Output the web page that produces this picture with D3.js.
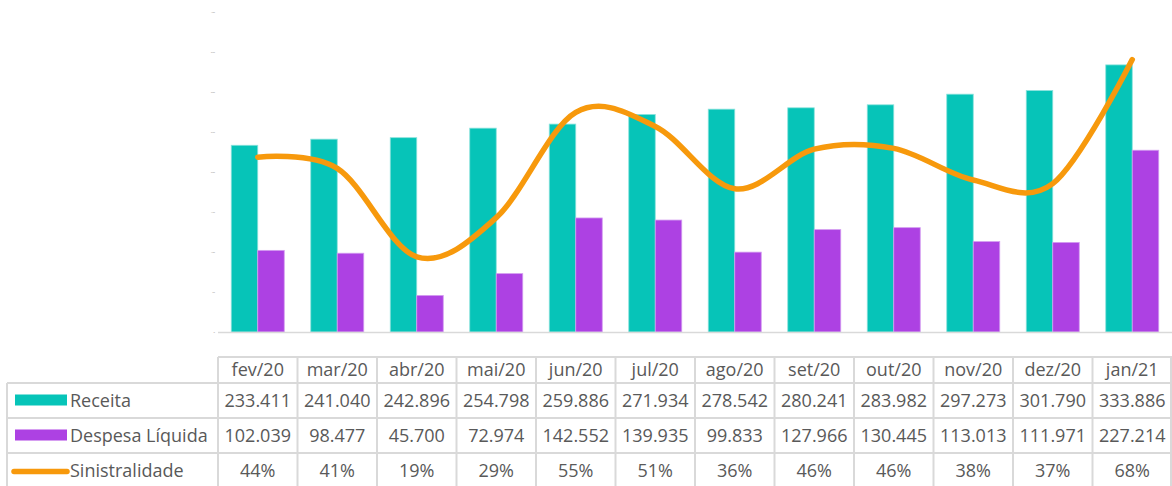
<!DOCTYPE html>
<html lang="pt">
<head>
  <meta charset="UTF-8">
  <title>Receita x Despesa Líquida x Sinistralidade</title>
  <script src="https://cdnjs.cloudflare.com/ajax/libs/d3/7.8.5/d3.min.js"></script>
  <style>
    html, body { margin: 0; padding: 0; background: #fff; }
    #chart { width: 1172px; height: 486px; }
    text { font-family: "Open Sans", "Noto Sans", sans-serif; fill: #595959; }
  </style>
</head>
<body>
  <div id="chart"></div>

  <script>
    // data
    const months = ["fev/20", "mar/20", "abr/20", "mai/20", "jun/20", "jul/20",
                    "ago/20", "set/20", "out/20", "nov/20", "dez/20", "jan/21"];
    const receita = [233.411, 241.040, 242.896, 254.798, 259.886, 271.934,
                     278.542, 280.241, 283.982, 297.273, 301.790, 333.886];
    const despesa = [102.039, 98.477, 45.700, 72.974, 142.552, 139.935,
                     99.833, 127.966, 130.445, 113.013, 111.971, 227.214];
    const sinistralidade = [0.437, 0.409, 0.188, 0.286, 0.549, 0.514,
                            0.358, 0.457, 0.459, 0.380, 0.371, 0.681];
    const yTicks = [0, 50, 100, 150, 200, 250, 300, 350, 400];

    const colors = { receita: "#06c4b8", despesa: "#ad41e3", sin: "#f7990c" };
    const gridColor = "#d9d9d9";

    const W = 1172, H = 486;
    const plotLeft = 218, plotRight = 1172, plotBottom = 332, plotTop = 12;

    const svg = d3.select("#chart").append("svg")
      .attr("width", W)
      .attr("height", H);

    // scales
    const x = d3.scaleBand()
      .domain(months)
      .range([plotLeft, plotRight])
      .padding(0);

    const xs = d3.scaleBand()
      .domain(["receita", "despesa"])
      .range([0, x.bandwidth()])
      .paddingInner(0)
      .paddingOuter(0.5);

    const y = d3.scaleLinear().domain([0, 400]).range([plotBottom, plotTop]);
    const y2 = d3.scaleLinear().domain([0, 0.8]).range([plotBottom, plotTop]);

    // left axis: tiny unreadable labels like the original
    const yAxis = svg.append("g")
      .attr("transform", `translate(${plotLeft - 3},0)`)
      .call(d3.axisLeft(y).tickValues(yTicks).tickSize(0).tickFormat(d => d));
    yAxis.select(".domain").remove();
    yAxis.selectAll("text")
      .style("font-size", "2.5px")
      .style("fill", "#999")
      .attr("x", 0);

    // bars
    const groups = svg.append("g").selectAll("g")
      .data(months)
      .join("g")
      .attr("transform", d => `translate(${x(d)},0)`);

    groups.append("rect")
      .attr("x", xs("receita"))
      .attr("y", (d, i) => y(receita[i]))
      .attr("width", xs.bandwidth())
      .attr("height", (d, i) => y(0) - y(receita[i]))
      .attr("fill", colors.receita)
      .attr("stroke", "#8ae2dc")
      .attr("stroke-width", 0.8);

    groups.append("rect")
      .attr("x", xs("despesa"))
      .attr("y", (d, i) => y(despesa[i]))
      .attr("width", xs.bandwidth())
      .attr("height", (d, i) => y(0) - y(despesa[i]))
      .attr("fill", colors.despesa)
      .attr("stroke", "#d39cf0")
      .attr("stroke-width", 0.8);

    // baseline
    svg.append("line")
      .attr("x1", plotLeft).attr("x2", plotRight)
      .attr("y1", y(0) + 0.5).attr("y2", y(0) + 0.5)
      .attr("stroke", gridColor)
      .attr("stroke-width", 1.5);

    // smoothed line
    const line = d3.line()
      .x((d, i) => x(months[i]) + x.bandwidth() / 2)
      .y(d => y2(d))
      .curve(d3.curveCardinal.tension(0));

    svg.append("path")
      .datum(sinistralidade)
      .attr("d", line)
      .attr("fill", "none")
      .attr("stroke", colors.sin)
      .attr("stroke-width", 5.5)
      .attr("stroke-linecap", "round")
      .attr("stroke-linejoin", "round");

    // data table
    const tableLeft = 7;
    const rowEdges = [357, 383, 418, 453, 488];
    const table = svg.append("g");

    const rows = [
      { label: "Receita", key: "receita", values: receita.map(v => v.toFixed(3)) },
      { label: "Despesa Líquida", key: "despesa", values: despesa.map(v => v.toFixed(3)) },
      { label: "Sinistralidade", key: "sin", values: sinistralidade.map(v => Math.round(v * 100) + "%") }
    ];

    // horizontal borders
    rowEdges.forEach((ry, i) => {
      table.append("line")
        .attr("x1", i === 0 ? plotLeft : tableLeft)
        .attr("x2", plotRight)
        .attr("y1", ry).attr("y2", ry)
        .attr("stroke", gridColor)
        .attr("stroke-width", 2);
    });

    // vertical borders
    table.append("line")
      .attr("x1", tableLeft).attr("x2", tableLeft)
      .attr("y1", rowEdges[1]).attr("y2", H)
      .attr("stroke", gridColor).attr("stroke-width", 2);
    months.concat([null]).forEach((m, i) => {
      const vx = m ? x(m) : plotRight - 1;
      table.append("line")
        .attr("x1", vx).attr("x2", vx)
        .attr("y1", rowEdges[0]).attr("y2", H)
        .attr("stroke", gridColor).attr("stroke-width", 2);
    });

    // header
    table.selectAll(".hdr")
      .data(months)
      .join("text")
      .attr("class", "hdr")
      .attr("x", d => x(d) + x.bandwidth() / 2)
      .attr("y", (rowEdges[0] + rowEdges[1]) / 2)
      .attr("dy", "0.35em")
      .attr("text-anchor", "middle")
      .style("font-size", "18px")
      .text(d => d);

    rows.forEach((r, ri) => {
      const cy = (rowEdges[ri + 1] + rowEdges[ri + 2]) / 2;

      // legend key
      if (r.key === "sin") {
        table.append("line")
          .attr("x1", 14).attr("x2", 67)
          .attr("y1", cy + 1).attr("y2", cy + 1)
          .attr("stroke", colors.sin)
          .attr("stroke-width", 5.5)
          .attr("stroke-linecap", "round");
      } else {
        table.append("rect")
          .attr("x", 15).attr("y", cy - 6)
          .attr("width", 52).attr("height", 11)
          .attr("fill", colors[r.key]);
      }

      table.append("text")
        .attr("x", 70)
        .attr("y", cy)
        .attr("dy", "0.35em")
        .style("font-size", "18px")
        .text(r.label);

      table.selectAll(".v" + ri)
        .data(r.values)
        .join("text")
        .attr("class", "v" + ri)
        .attr("x", (d, i) => x(months[i]) + x.bandwidth() / 2)
        .attr("y", cy)
        .attr("dy", "0.35em")
        .attr("text-anchor", "middle")
        .style("font-size", "18px")
        .text(d => d);
    });
  </script>
</body>
</html>
